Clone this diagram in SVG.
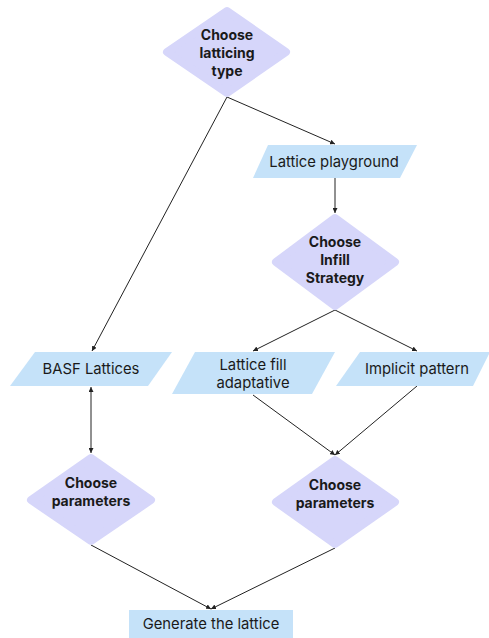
<svg xmlns="http://www.w3.org/2000/svg" width="489" height="638" viewBox="0 0 489 638">
<defs>
<style>
.dia{fill:#d6d6fa;stroke:#d6d6fa;stroke-width:8;stroke-linejoin:round}
.par{fill:#c5e2f9}
.bt{font-family:Inter,"Liberation Sans",sans-serif;font-weight:700;font-size:14px;fill:#1a1a1a;text-anchor:middle}
.nt{font-family:Inter,"Liberation Sans",sans-serif;font-size:14.8px;fill:#1a1a1a;text-anchor:middle}
.c{stroke:#222;stroke-width:1;fill:none}
</style>
<marker id="ah" viewBox="0 0 6 6" refX="6" refY="3" markerWidth="5" markerHeight="5" orient="auto-start-reverse" markerUnits="userSpaceOnUse">
<path d="M0,0 L6,3 L0,6 z" fill="#222"/>
</marker>
</defs>
<rect width="489" height="638" fill="#fff"/>
<g id="connectors">
<line class="c" x1="227" y1="97" x2="335" y2="144" marker-end="url(#ah)"/>
<line class="c" x1="227" y1="97" x2="92" y2="351" marker-end="url(#ah)"/>
<line class="c" x1="335" y1="178" x2="335" y2="213" marker-end="url(#ah)"/>
<line class="c" x1="335" y1="310" x2="253" y2="351" marker-end="url(#ah)"/>
<line class="c" x1="335" y1="310" x2="417" y2="351" marker-end="url(#ah)"/>
<line class="c" x1="91" y1="387" x2="91" y2="453" marker-start="url(#ah)" marker-end="url(#ah)"/>
<line class="c" x1="253" y1="395" x2="335" y2="455" marker-end="url(#ah)"/>
<line class="c" x1="417" y1="386" x2="335" y2="455" marker-end="url(#ah)"/>
<line class="c" x1="91" y1="545" x2="211" y2="609" marker-end="url(#ah)"/>
<line class="c" x1="335" y1="548" x2="211" y2="609" marker-end="url(#ah)"/>
</g>
<g id="choose-latticing">
<polygon class="dia" points="227,11 286,52 227,93 167,52"/>
<text class="bt" x="227" y="40">Choose</text>
<text class="bt" x="227" y="58">latticing</text>
<text class="bt" x="227" y="76">type</text>
</g>
<g id="lattice-playground">
<polygon class="par" points="268,145 417,145 400,178 253,178"/>
<text class="nt" x="334" y="167">Lattice playground</text>
</g>
<g id="choose-infill">
<polygon class="dia" points="335,218 395,262 335,306 276,262"/>
<text class="bt" x="335" y="247">Choose</text>
<text class="bt" x="335" y="265">Infill</text>
<text class="bt" x="335" y="283">Strategy</text>
</g>
<g id="basf-lattices">
<polygon class="par" points="35,352 172,352 148,386 10,386"/>
<text class="nt" x="91" y="374">BASF Lattices</text>
</g>
<g id="lattice-fill">
<polygon class="par" points="195,352 335,352 312,394 172,394"/>
<text class="nt" x="253" y="370">Lattice fill</text>
<text class="nt" x="253" y="388">adaptative</text>
</g>
<g id="implicit-pattern">
<polygon class="par" points="360,352 490,352 473,386 336,386"/>
<text class="nt" x="417" y="374">Implicit pattern</text>
</g>
<g id="params-left">
<polygon class="dia" points="91,458 151,500 91,541 31,500"/>
<text class="bt" x="91" y="488">Choose</text>
<text class="bt" x="91" y="506">parameters</text>
</g>
<g id="params-right">
<polygon class="dia" points="335,460 395,502 335,544 276,502"/>
<text class="bt" x="335" y="490">Choose</text>
<text class="bt" x="335" y="508">parameters</text>
</g>
<g id="generate">
<rect class="par" x="129" y="610" width="164" height="28"/>
<text class="nt" x="211" y="629">Generate the lattice</text>
</g>
</svg>
